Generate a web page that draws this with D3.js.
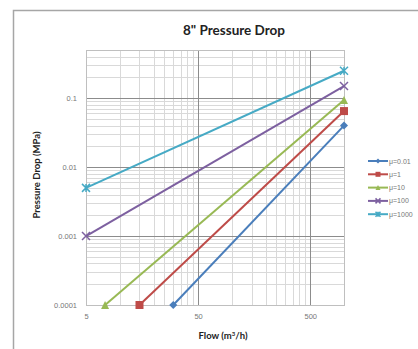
<!DOCTYPE html>
<html><head><meta charset="utf-8">
<script src="https://cdn.jsdelivr.net/npm/d3@7"></script>
<style>body{margin:0;background:#fff}svg{display:block}</style>
</head><body>
<svg id="c" width="418" height="349"></svg>
<script>
const seriesNames = ["μ=0.01","μ=1","μ=10","μ=100","μ=1000"];
const flowStart = [30, 15, 7.4, 5, 5];
const flowEnd = [1000, 1000, 1000, 1000, 1000];
const dropStart = [0.0001, 0.0001, 0.0001, 0.001, 0.005];
const dropEnd = [0.04, 0.065, 0.094, 0.15, 0.25];
const colors = ["#4A7EBB","#BE4B48","#98B954","#7D60A0","#46AAC5"];
const markers = ["diamond","square","triangle","x","star"];
const xTickLabels = [5, 50, 500];
const yTickLabels = [0.0001, 0.001, 0.01, 0.1];

const svg = d3.select("#c");
const L = 86, R = 344, T = 50, B = 305;
const x = d3.scaleLog().domain([5, 1000]).range([L, R]);
const y = d3.scaleLog().domain([0.0001, 0.5]).range([B, T]);

// chart border
svg.append("path").attr("d", `M13.5,349 V10.5 H418`).attr("fill","none").attr("stroke","#a6a6a6").attr("stroke-width",1.5);

// minor gridlines
const xMinor = [];
[5,50,500].forEach(b=>{for(let k=2;k<=9;k++){const v=b*k; if(v<=1000 && v%(b*10)!==0) xMinor.push(v);}});
const yMinor = [];
[0.0001,0.001,0.01,0.1].forEach(b=>{for(let k=2;k<=9;k++){const v=b*k; if(v<=0.5) yMinor.push(v);}});

const g = svg.append("g");
g.selectAll(".xm").data(xMinor).join("line")
  .attr("x1",d=>Math.round(x(d))+0.5).attr("x2",d=>Math.round(x(d))+0.5).attr("y1",T).attr("y2",B)
  .attr("stroke","#d9d9d9").attr("stroke-width",1);
g.selectAll(".ym").data(yMinor).join("line")
  .attr("y1",d=>Math.round(y(d))+0.5).attr("y2",d=>Math.round(y(d))+0.5).attr("x1",L).attr("x2",R)
  .attr("stroke","#d9d9d9").attr("stroke-width",1);
// major gridlines
g.selectAll(".xM").data([50,500]).join("line")
  .attr("x1",d=>Math.round(x(d))+0.5).attr("x2",d=>Math.round(x(d))+0.5).attr("y1",T).attr("y2",B)
  .attr("stroke","#8c8c8c").attr("stroke-width",1);
g.selectAll(".yM").data([0.001,0.01,0.1]).join("line")
  .attr("y1",d=>Math.round(y(d))+0.5).attr("y2",d=>Math.round(y(d))+0.5).attr("x1",L).attr("x2",R)
  .attr("stroke","#8c8c8c").attr("stroke-width",1);
// plot border
g.append("rect").attr("x",L+0.5).attr("y",T+0.5).attr("width",R-L).attr("height",B-T)
  .attr("fill","none").attr("stroke","#bfbfbf");

// axes with D3
const xAxis = d3.axisBottom(x).tickValues(xTickLabels).tickFormat(d=>d).tickSize(0).tickPadding(9);
const ax = svg.append("g").attr("transform",`translate(0,${B})`).call(xAxis);
ax.select(".domain").remove();
ax.selectAll("text").attr("fill","#777").style("font-family","Liberation Sans, Arial").style("font-size","7.5px");
const yAxis = d3.axisLeft(y).tickValues(yTickLabels).tickFormat(d=>d3.format("")(+d.toPrecision(1))).tickSize(0).tickPadding(9);
const ay = svg.append("g").attr("transform",`translate(${L},0)`).call(yAxis);
ay.select(".domain").remove();
ay.selectAll("text").attr("fill","#777").style("font-family","Liberation Sans, Arial").style("font-size","7.5px");

// lines
const data = seriesNames.map((n,i)=>({name:n,color:colors[i],marker:markers[i],
  pts:[[flowStart[i],dropStart[i]],[flowEnd[i],dropEnd[i]]]}));
const line = d3.line().x(d=>x(d[0])).y(d=>y(d[1]));
svg.append("g").selectAll("path").data(data).join("path")
  .attr("d",d=>line(d.pts)).attr("fill","none").attr("stroke",d=>d.color).attr("stroke-width",2);

function drawMarker(sel, type, color, s){
  if(type==="diamond") sel.append("path").attr("d",`M0,${-s}L${s},0L0,${s}L${-s},0Z`).attr("fill",color);
  else if(type==="square") sel.append("rect").attr("x",-s).attr("y",-s).attr("width",2*s).attr("height",2*s).attr("fill",color);
  else if(type==="triangle") sel.append("path").attr("d",`M0,${-s}L${s},${s}L${-s},${s}Z`).attr("fill",color);
  else if(type==="x") sel.append("path").attr("d",`M${-s},${-s}L${s},${s}M${-s},${s}L${s},${-s}`).attr("stroke",color).attr("stroke-width",1.5);
  else if(type==="star") sel.append("path").attr("d",`M${-s},${-s}L${s},${s}M${-s},${s}L${s},${-s}M0,${-s}L0,${s}`).attr("stroke",color).attr("stroke-width",1.5);
}
data.forEach(d=>{
  d.pts.forEach(p=>{
    const m = svg.append("g").attr("transform",`translate(${x(p[0])},${y(p[1])})`);
    drawMarker(m, d.marker, d.color, 4);
  });
});

// legend
const lg = svg.append("g");
data.forEach((d,i)=>{
  const yy = 161 + i*13.3;
  lg.append("line").attr("x1",368).attr("x2",388).attr("y1",yy).attr("y2",yy).attr("stroke",d.color).attr("stroke-width",2);
  const m = lg.append("g").attr("transform",`translate(378,${yy})`);
  drawMarker(m, d.marker, d.color, 2.5);
  lg.append("text").attr("x",389).attr("y",yy+2.5).text(d.name)
    .attr("fill","#777").style("font-family","Liberation Sans, Arial").style("font-size","7px");
});

// titles
svg.append("text").attr("x",234).attr("y",35).attr("text-anchor","middle").text('8"  Pressure Drop')
  .style("font-family","Lato, Open Sans, sans-serif").style("font-weight","bold").style("font-size","13.5px").attr("fill","#222");
svg.append("text").attr("x",223).attr("y",339).attr("text-anchor","middle")
  .style("font-family","Lato, Open Sans, sans-serif").style("font-weight","bold").style("font-size","9.5px").attr("fill","#222")
  .html('Flow (m<tspan dy="-3" font-size="6px">3</tspan><tspan dy="3">/h)</tspan>');
svg.append("text").attr("transform","translate(40,175) rotate(-90)").attr("text-anchor","middle").text("Pressure Drop (MPa)")
  .style("font-family","Lato, Open Sans, sans-serif").style("font-weight","bold").style("font-size","9.5px").attr("fill","#222");
</script>
</body></html>
